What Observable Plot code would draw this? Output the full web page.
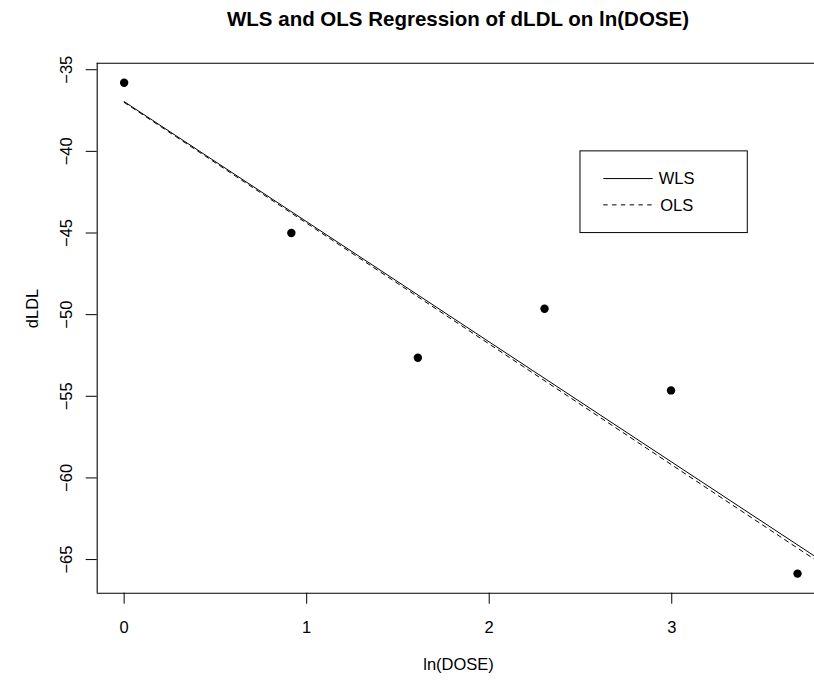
<!DOCTYPE html>
<html><head><meta charset="utf-8">
<script src="https://cdn.jsdelivr.net/npm/d3@7"></script>
<script src="https://cdn.jsdelivr.net/npm/@observablehq/plot@0.6"></script>
<style>
body{margin:0;background:#fff;font-family:"Liberation Sans",Arial,Helvetica,sans-serif;}
#title{height:38px;box-sizing:border-box;padding-top:8.5px;padding-left:102px;text-align:center;font-weight:bold;font-size:20.5px;line-height:20px;width:814px;color:#000;white-space:nowrap;}
#chart svg{background:#fff;}
</style></head><body>
<div id="title">WLS and OLS Regression of dLDL on ln(DOSE)</div>
<div id="chart"></div>
<script>
// data
const lnDose = [0, 0.916, 1.609, 2.303, 2.996, 3.689];
const dLDL = [-35.8, -45.0, -52.64, -49.64, -54.64, -65.86];
const fitNames = ["WLS", "OLS"];
const fitIntercepts = [-36.95, -37.0];
const fitSlopes = [-7.36, -7.40];
const fitDash = [null, "4.4,4.4"];
const fitRange = [0, 3.9];
const xTicks = [0, 1, 2, 3];
const yTicks = [-65, -60, -55, -50, -45, -40, -35];
const xDomain = [-0.1476, 3.782];
const yDomain = [-67.06, -34.6];
const legendAt = [2.5, -40];
const xLabel = "ln(DOSE)";
const yLabel = "dLDL";

const points = lnDose.map((x, i) => ({x, y: dLDL[i]}));
const fits = fitNames.map((name, i) => fitRange.map(x => ({fit: name, x, y: fitIntercepts[i] + fitSlopes[i] * x})));

const fmt = d => d < 0 ? "\u2212" + Math.abs(d) : String(d);

const plot = Plot.plot({
  width: 814,
  height: 645,
  marginTop: 24.7,
  marginBottom: 90.3,
  marginLeft: 96.7,
  marginRight: 0,
  style: {fontFamily: '"Liberation Sans", Arial, Helvetica, sans-serif', fontSize: "16.5px", color: "#000", background: "#fff"},
  x: {domain: xDomain},
  y: {domain: yDomain},
  marks: [
    Plot.ruleX([xDomain[0]], {stroke: "#000", strokeWidth: 1.1}),
    Plot.ruleY([yDomain[0], yDomain[1]], {stroke: "#000", strokeWidth: 1.1}),
    Plot.axisX({ticks: xTicks, tickSize: 11, tickPadding: 17, tickFormat: fmt, stroke: "#000", fill: "#000", label: null}),
    Plot.axisY({ticks: yTicks, tickSize: 11, fill: "none", stroke: "#000", label: null}),
    Plot.text(yTicks, {x: xDomain[0], y: d => d, text: fmt, rotate: -90, lineAnchor: "middle", dx: -30.7, fill: "#000"}),
    Plot.text([xLabel], {frameAnchor: "bottom", dy: 76.3, dx: 2.7, fill: "#000"}),
    Plot.text([yLabel], {frameAnchor: "left", rotate: -90, dx: -64.7, fill: "#000"}),
    ...fits.map((rows, i) => Plot.line(rows, {x: "x", y: "y", stroke: "#000", strokeWidth: 1, strokeDasharray: fitDash[i] || undefined, clip: true})),
    Plot.dot(points, {x: "x", y: "y", r: 4.2, fill: "#000", stroke: null})
  ]
});
document.getElementById("chart").appendChild(plot);

// legend placed at data coordinates (like R's legend(x, y, ...))
const sx = plot.scale("x"), sy = plot.scale("y");
const lx = sx.apply(legendAt[0]), ly = sy.apply(legendAt[1]);
const svg = d3.select(plot);
const g = svg.append("g").attr("class", "legend");
g.append("rect").attr("x", lx).attr("y", ly).attr("width", 167.3).attr("height", 81.7)
  .attr("fill", "#fff").attr("stroke", "#000").attr("stroke-width", 1);
fitNames.forEach((name, i) => {
  const yy = ly + 27.7 + i * 26.3;
  g.append("line").attr("x1", lx + 23.3).attr("x2", lx + 72.7).attr("y1", yy).attr("y2", yy)
    .attr("stroke", "#000").attr("stroke-width", 1).attr("stroke-dasharray", fitDash[i]);
  g.append("text").attr("x", lx + 96.7).attr("y", yy + 5.9).attr("fill", "#000")
    .style("font-size", "16.5px").text(name);
});
</script>
</body></html>
